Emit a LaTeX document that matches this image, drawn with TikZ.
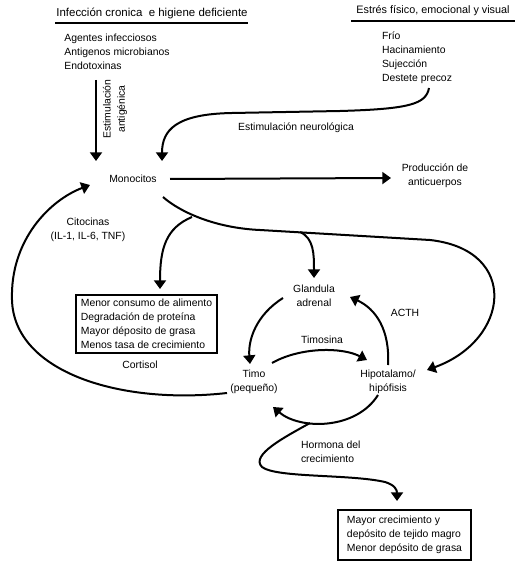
\documentclass[tikz,border=0pt]{standalone}
\usepackage{fontspec}
\setmainfont{Liberation Sans}
\usetikzlibrary{arrows.meta}
\begin{document}
\begin{tikzpicture}[x=0.75pt,y=-0.75pt,
  font=\fontsize{7.8}{10.6}\selectfont,
  line width=1.5pt,
  arr/.style={-{Triangle[width=9pt,length=6.5pt]}},
  txt/.style={inner sep=0pt, align=center},
  lst/.style={inner sep=0pt, align=left},
  boxed/.style={draw, line width=1.1pt, inner sep=2pt, align=left}]
\useasboundingbox (0,0) rectangle (520,566);

% titles
\node[txt, font=\fontsize{8.6}{10.6}\selectfont] (inf) at (152,13) {Infección cronica \ e higiene deficiente};
\coordinate (ulAa) at (55,23); \coordinate (ulAb) at (248,23);
\draw[line width=1.6pt] (ulAa) -- (ulAb);
\node[lst] (agentes) at (117,52) {Agentes infecciosos\\Antigenos microbianos\\Endotoxinas};

\node[txt, font=\fontsize{8.1}{10.6}\selectfont] (estres) at (433,11) {Estrés físico, emocional y visual};
\coordinate (ulBa) at (351,21); \coordinate (ulBb) at (515,21);
\draw[line width=1.6pt] (ulBa) -- (ulBb);
\node[lst] (frio) at (417,57.5) {Frío\\Hacinamiento\\Sujección\\Destete precoz};

\node[txt, rotate=90] (estim) at (115,109) {Estimulación\\antigénica};
\node[txt] (neuro) at (296,128) {Estimulación neurológica};

\node[txt] (mono) at (133,179) {Monocitos};
\node[txt] (prod) at (435,176) {Producción de\\anticuerpos};
\node[txt] (cito) at (88,229.5) {Citocinas\\(IL-1, IL-6, TNF)};

\node[boxed, minimum width=105.75pt, minimum height=43.5pt] (box1) at (146.5,324)
  {Menor consumo de alimento\\Degradación de proteína\\Mayor déposito de grasa\\Menos tasa de crecimiento};
\node[txt] (cortisol) at (140,365) {Cortisol};

\node[txt] (gland) at (314,296) {Glandula\\adrenal};
\node[txt] (acth) at (405,313) {ACTH};
\node[txt] (timosina) at (322,340) {Timosina};
\node[txt] (timo) at (254,382) {Timo\\(pequeño)};
\node[txt] (hipo) at (388,382) {Hipotalamo/\\hipófisis};
\node[lst, anchor=west] (hormona) at (300,452) {Hormona del\\crecimiento};

\node[boxed, minimum width=99.75pt, minimum height=37.5pt, line width=1.3pt] (box2) at (404.5,535)
  {Mayor crecimiento y\\depósito de tejido magro\\Menor depósito de grasa};

% coordinates for connector ends
\coordinate (agS) at (96,80);  \coordinate (monoNW) at (96,161);
\coordinate (frS) at (429,88); \coordinate (monoN) at (162,161);
\coordinate (monoE) at (170,179); \coordinate (prodW) at (391,178);
\coordinate (monoSE) at (163,197);
\coordinate (brA) at (192,217);
\coordinate (brB) at (300,232);
\coordinate (b1N) at (160,289);
\coordinate (glN) at (314,278);
\coordinate (hipoNE) at (427,370);
\coordinate (timoW) at (227,393);
\coordinate (monoSW) at (90,185);
\coordinate (glSW) at (283,298);
\coordinate (timoN) at (250,364);
\coordinate (timoNE) at (272,363);
\coordinate (hipoNW) at (367,360);
\coordinate (hipoN) at (388,365);
\coordinate (glE) at (350,297);
\coordinate (hipoS) at (378,395);
\coordinate (timoSE) at (273,407);
\coordinate (brC) at (310,423);
\coordinate (b2N) at (397,501);

% connectors
\draw[arr] (agS) -- (monoNW);
\draw[arr] (frS) .. controls (426,104) and (410,109) .. (340,111)
  -- (232,113) .. controls (176,114) and (162,130) .. (monoN);
\draw[arr] (monoE) -- (prodW);
\draw[arr] (monoSE) .. controls (180,212) and (215,228) .. (260,230)
  -- (430,240) .. controls (520,250) and (510,340) .. (hipoNE);
\draw[arr] (brA) .. controls (166,228) and (160,248) .. (b1N);
\draw[arr] (brB) .. controls (314,238) and (314,255) .. (glN);
\draw[arr] (timoW) .. controls (120,405) and (14,372) .. (12,300)
  .. controls (10,240) and (50,200) .. (monoSW);
\draw[arr] (glSW) .. controls (256,315) and (248,340) .. (timoN);
\draw[arr] (timoNE) .. controls (300,347) and (342,347) .. (hipoNW);
\draw[arr] (hipoN) .. controls (390,330) and (376,309) .. (glE);
\draw[arr] (hipoS) .. controls (356,430) and (300,430) .. (timoSE);
\draw[arr] (brC) .. controls (285,437) and (250,455) .. (262,467)
  .. controls (276,478) and (350,474) .. (385,482)
  .. controls (395,485) and (397,490) .. (b2N);
\end{tikzpicture}
\end{document}
